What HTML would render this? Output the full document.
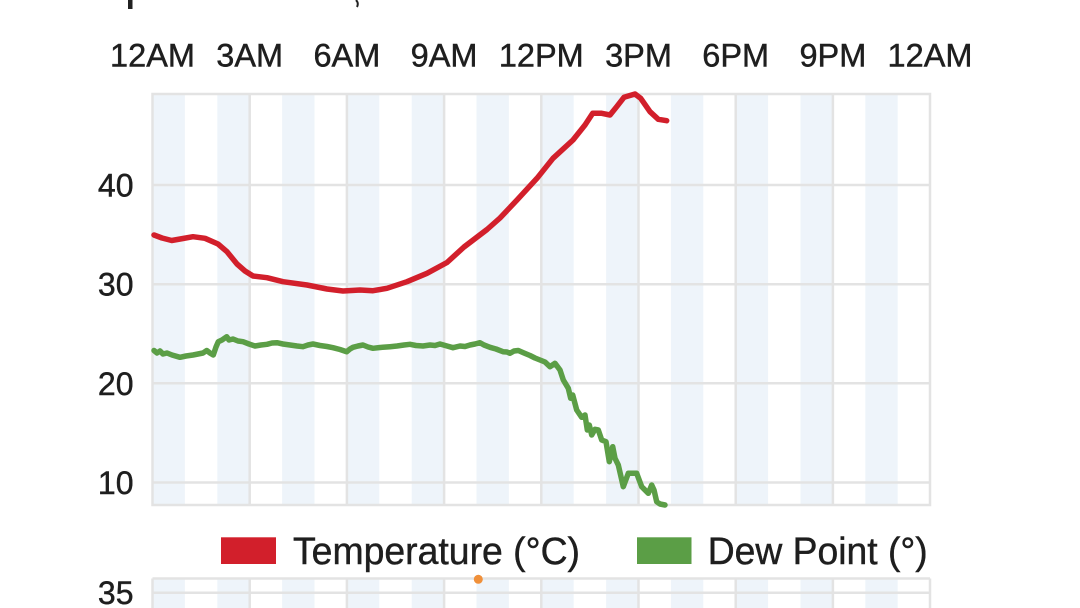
<!DOCTYPE html>
<html>
<head>
<meta charset="utf-8">
<style>
  html, body { margin: 0; padding: 0; background: #ffffff; }
  body { width: 1080px; height: 608px; overflow: hidden; }
  svg { display: block; }
  text { font-family: "Liberation Sans", "DejaVu Sans", sans-serif; fill: #1e1e1e; stroke: #1e1e1e; stroke-width: 0.45; }
</style>
</head>
<body>
<svg width="1080" height="608" viewBox="0 0 1080 608" xmlns="http://www.w3.org/2000/svg">
  <rect x="0" y="0" width="1080" height="608" fill="#ffffff"/>

  <!-- cut-off title fragments -->
  <path d="M128 0 L132.5 0 L132.5 9 L128 9 Z" fill="#212121"/>
  <path d="M356 0 Q359 3 357 7" stroke="#212121" stroke-width="2" fill="none"/>

  <!-- x tick labels -->
  <g font-size="32.5" text-anchor="middle">
    <text x="152.5" y="66.7">12AM</text>
    <text x="249.7" y="66.7">3AM</text>
    <text x="346.9" y="66.7">6AM</text>
    <text x="444.1" y="66.7">9AM</text>
    <text x="541.3" y="66.7">12PM</text>
    <text x="638.5" y="66.7">3PM</text>
    <text x="735.7" y="66.7">6PM</text>
    <text x="832.9" y="66.7">9PM</text>
    <text x="930" y="66.7">12AM</text>
  </g>

  <!-- main chart bands -->
  <g fill="#eef4fa">
    <rect x="152.5" y="94" width="32.4" height="411"/>
    <rect x="217.3" y="94" width="32.4" height="411"/>
    <rect x="282.1" y="94" width="32.4" height="411"/>
    <rect x="346.9" y="94" width="32.4" height="411"/>
    <rect x="411.7" y="94" width="32.4" height="411"/>
    <rect x="476.5" y="94" width="32.4" height="411"/>
    <rect x="541.3" y="94" width="32.4" height="411"/>
    <rect x="606.1" y="94" width="32.4" height="411"/>
    <rect x="670.9" y="94" width="32.4" height="411"/>
    <rect x="735.7" y="94" width="32.4" height="411"/>
    <rect x="800.5" y="94" width="32.4" height="411"/>
    <rect x="865.3" y="94" width="32.4" height="411"/>
  </g>

  <!-- grid -->
  <g stroke="#e3e3e3" stroke-width="2.5" fill="none">
    <line x1="152.5" y1="185" x2="930" y2="185"/>
    <line x1="152.5" y1="284.2" x2="930" y2="284.2"/>
    <line x1="152.5" y1="383.3" x2="930" y2="383.3"/>
    <line x1="152.5" y1="482.5" x2="930" y2="482.5"/>
    <line x1="249.7" y1="94" x2="249.7" y2="505"/>
    <line x1="346.9" y1="94" x2="346.9" y2="505"/>
    <line x1="444.1" y1="94" x2="444.1" y2="505"/>
    <line x1="541.3" y1="94" x2="541.3" y2="505"/>
    <line x1="638.5" y1="94" x2="638.5" y2="505"/>
    <line x1="735.7" y1="94" x2="735.7" y2="505"/>
    <line x1="832.9" y1="94" x2="832.9" y2="505"/>
    <rect x="152.5" y="94" width="777.5" height="411"/>
  </g>

  <!-- y labels -->
  <g font-size="32" text-anchor="end">
    <text x="133.5" y="196.5">40</text>
    <text x="133.5" y="295.7">30</text>
    <text x="133.5" y="394.8">20</text>
    <text x="133.5" y="494">10</text>
  </g>

  <!-- temperature -->
  <polyline fill="none" stroke="#d21f2b" stroke-width="5.5" stroke-linejoin="round" stroke-linecap="round"
    points="154,235 162,238 171.7,240.5 183,238.5 193,236.7 205,238.3 218,244 227,251.7 237,264 245,271 253,276 267,277.7 283,281.7 307,285 327,289 343,291 360,290 373,290.7 387,288.3 407,281.7 427,273.3 447,262.5 464,247 487,229.5 500,218 517,200 537,178.3 553,158.3 573,140 585,125 592.7,113.3 601.7,113.3 610,115 616.7,106.7 624,97.3 635,94 640.7,98.3 650,111.7 658.3,119.3 666.7,120.7"/>

  <!-- dew point -->
  <polyline fill="none" stroke="#5b9e46" stroke-width="5.5" stroke-linejoin="round" stroke-linecap="round"
    points="154,350.5 157,353 160,351 163,354 167,353 172,355 180,357.3 186,356 193,355 198,354 203,353 206.7,350.5 210,353 213.3,355 216,347 218.3,341.7 222,340 226.7,336.7 229,340 233,339 238,341 243,341.7 249,344 255,346 261,345 267,344.3 272,343 277,342.7 283,344 290,345 297,346 303,346.7 308,345 313,344 320,345.5 327,346.5 333,347.7 340,349.5 346.7,351.7 350,349 353,347.3 358,346 363,345 368,347 373,348.3 380,347.5 390,346.7 397,346 404,345 410,344.3 416,345.5 423,346 430,345 435,345.5 440,344 447,346 453,347.7 460,346 465,346.5 470,345 475,344 480,342.7 484,345 490,347.3 496,349 503,351.7 507,352 510,353.3 514,351 518.3,350.5 524,353 530,355.5 535,358 540,360 545,362 550,366.7 555,363.3 560,370 563.3,380 568.3,388.3 570.7,398.3 572.7,395 576.7,410 581.7,417.3 585,415 587.3,430 589.3,425 591.7,435 595,429.3 598.3,430 601.7,440 606,441.7 609.3,461.7 612.7,446.7 615,458.3 618.3,465 623.3,486.7 628.3,473.3 636.7,473.3 641.7,486.7 648.3,493.3 651.7,485 654,490 656.7,501.7 660,504 665,505"/>

  <!-- legend -->
  <rect x="221" y="537.3" width="55" height="26.7" fill="#d21f2b"/>
  <text x="293" y="564" font-size="38" textLength="287" lengthAdjust="spacingAndGlyphs">Temperature (°C)</text>
  <rect x="637" y="537.3" width="54.5" height="26.7" fill="#5b9e46"/>
  <text x="707.7" y="564" font-size="38" textLength="220" lengthAdjust="spacingAndGlyphs">Dew Point (°)</text>

  <!-- second chart (cut off) -->
  <g fill="#eef4fa">
    <rect x="152.5" y="578.5" width="32.4" height="30"/>
    <rect x="217.3" y="578.5" width="32.4" height="30"/>
    <rect x="282.1" y="578.5" width="32.4" height="30"/>
    <rect x="346.9" y="578.5" width="32.4" height="30"/>
    <rect x="411.7" y="578.5" width="32.4" height="30"/>
    <rect x="476.5" y="578.5" width="32.4" height="30"/>
    <rect x="541.3" y="578.5" width="32.4" height="30"/>
    <rect x="606.1" y="578.5" width="32.4" height="30"/>
    <rect x="670.9" y="578.5" width="32.4" height="30"/>
    <rect x="735.7" y="578.5" width="32.4" height="30"/>
    <rect x="800.5" y="578.5" width="32.4" height="30"/>
    <rect x="865.3" y="578.5" width="32.4" height="30"/>
  </g>
  <g stroke="#e3e3e3" stroke-width="2.5" fill="none">
    <line x1="152.5" y1="578.5" x2="930" y2="578.5"/>
    <line x1="152.5" y1="592.7" x2="930" y2="592.7"/>
    <line x1="152.5" y1="578.5" x2="152.5" y2="608"/>
    <line x1="249.7" y1="578.5" x2="249.7" y2="608"/>
    <line x1="346.9" y1="578.5" x2="346.9" y2="608"/>
    <line x1="444.1" y1="578.5" x2="444.1" y2="608"/>
    <line x1="541.3" y1="578.5" x2="541.3" y2="608"/>
    <line x1="638.5" y1="578.5" x2="638.5" y2="608"/>
    <line x1="735.7" y1="578.5" x2="735.7" y2="608"/>
    <line x1="832.9" y1="578.5" x2="832.9" y2="608"/>
    <line x1="930" y1="578.5" x2="930" y2="608"/>
  </g>
  <text x="133.5" y="604" font-size="32" text-anchor="end">35</text>
  <circle cx="478.3" cy="579.3" r="4.5" fill="#f0903a"/>
</svg>
</body>
</html>
